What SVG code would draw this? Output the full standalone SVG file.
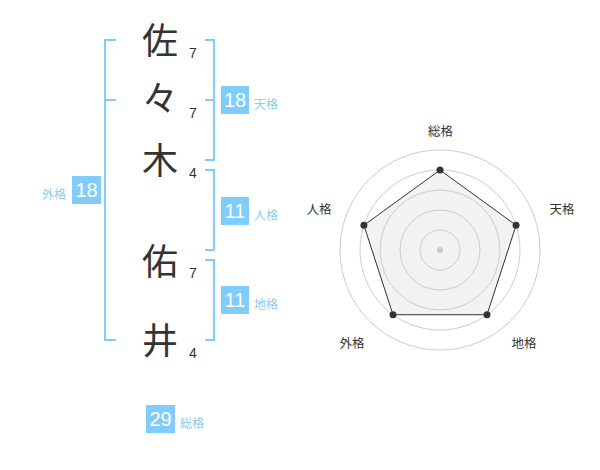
<svg xmlns="http://www.w3.org/2000/svg" width="600" height="470" viewBox="0 0 600 470">
<style>
.kan{font-family:"Noto Sans CJK JP","Noto Sans CJK SC",sans-serif;font-size:36px;fill:#333;text-anchor:middle}
.num{font-family:"Liberation Sans",Arial,sans-serif;font-size:14px;fill:#333;text-anchor:middle}
.box{fill:#80ccfa}
.bnum{font-family:"Liberation Sans",Arial,sans-serif;font-size:20px;fill:#fff;text-anchor:middle}
.lab{font-family:"Noto Sans CJK JP","Noto Sans CJK SC",sans-serif;font-size:12px;fill:#88ccf5}
.br{fill:none;stroke:#80ccfa;stroke-width:2}
.ring{fill:none;stroke:#cccccc;stroke-width:1}
.rlab{font-family:"Noto Sans CJK JP","Noto Sans CJK SC",sans-serif;font-size:12.5px;fill:#333;text-anchor:middle}
.dot{fill:#333}
</style>
<rect width="600" height="470" fill="#fff"/>
<g id="connectors">
<path class="br" d="M116,40 H105 V340 H116 M105,100 H116"/>
<path class="br" d="M205,40 H214 V160 H205 M205,100 H214"/>
<path class="br" d="M205,170 H214 V250 H205"/>
<path class="br" d="M205,260 H214 V340 H205"/>
</g>
<g id="char1"><text class="kan" x="160" y="54">佐</text><text class="num" x="193" y="58">7</text></g>
<g id="char2"><text class="kan" x="160" y="112">々</text><text class="num" x="193" y="118">7</text></g>
<g id="char3"><text class="kan" x="160" y="174">木</text><text class="num" x="193" y="178">4</text></g>
<g id="char4"><text class="kan" x="160" y="275">佑</text><text class="num" x="193" y="278">7</text></g>
<g id="char5"><text class="kan" x="160" y="354">井</text><text class="num" x="193" y="358">4</text></g>
<g id="tenkaku"><rect class="box" x="221" y="86" width="28" height="28"/><text class="bnum" x="235" y="107">18</text><text class="lab" x="254" y="109">天格</text></g>
<g id="jinkaku"><rect class="box" x="221" y="197" width="28" height="28"/><text class="bnum" x="235" y="218">11</text><text class="lab" x="254" y="220">人格</text></g>
<g id="chikaku"><rect class="box" x="221" y="286" width="28" height="28"/><text class="bnum" x="235" y="307">11</text><text class="lab" x="254" y="309">地格</text></g>
<g id="gaikaku"><rect class="box" x="72" y="176" width="29" height="28"/><text class="bnum" x="86.5" y="197">18</text><text class="lab" x="42" y="199">外格</text></g>
<g id="soukaku"><rect class="box" x="146" y="405" width="29" height="28"/><text class="bnum" x="160.5" y="426">29</text><text class="lab" x="180" y="428">総格</text></g>
<g id="radar">
<circle class="ring" cx="440" cy="250" r="100"/>
<circle class="ring" cx="440" cy="250" r="80"/>
<polygon points="440,170 516.08,225.28 487.02,314.72 392.98,314.72 363.92,225.28" fill="#f0f0f0" fill-opacity="0.85" stroke="#333" stroke-width="1"/>
<circle class="ring" cx="440" cy="250" r="60"/>
<circle class="ring" cx="440" cy="250" r="40"/>
<circle class="ring" cx="440" cy="250" r="20"/>
<circle cx="440" cy="250" r="3" fill="#c8c8c8"/>
<circle class="dot" cx="440" cy="170" r="3.5"/>
<circle class="dot" cx="516.08" cy="225.28" r="3.5"/>
<circle class="dot" cx="487.02" cy="314.72" r="3.5"/>
<circle class="dot" cx="392.98" cy="314.72" r="3.5"/>
<circle class="dot" cx="363.92" cy="225.28" r="3.5"/>
<text class="rlab" x="440.5" y="136">総格</text>
<text class="rlab" x="562" y="214">天格</text>
<text class="rlab" x="524" y="348">地格</text>
<text class="rlab" x="352" y="348">外格</text>
<text class="rlab" x="319" y="214">人格</text>
</g>
</svg>
